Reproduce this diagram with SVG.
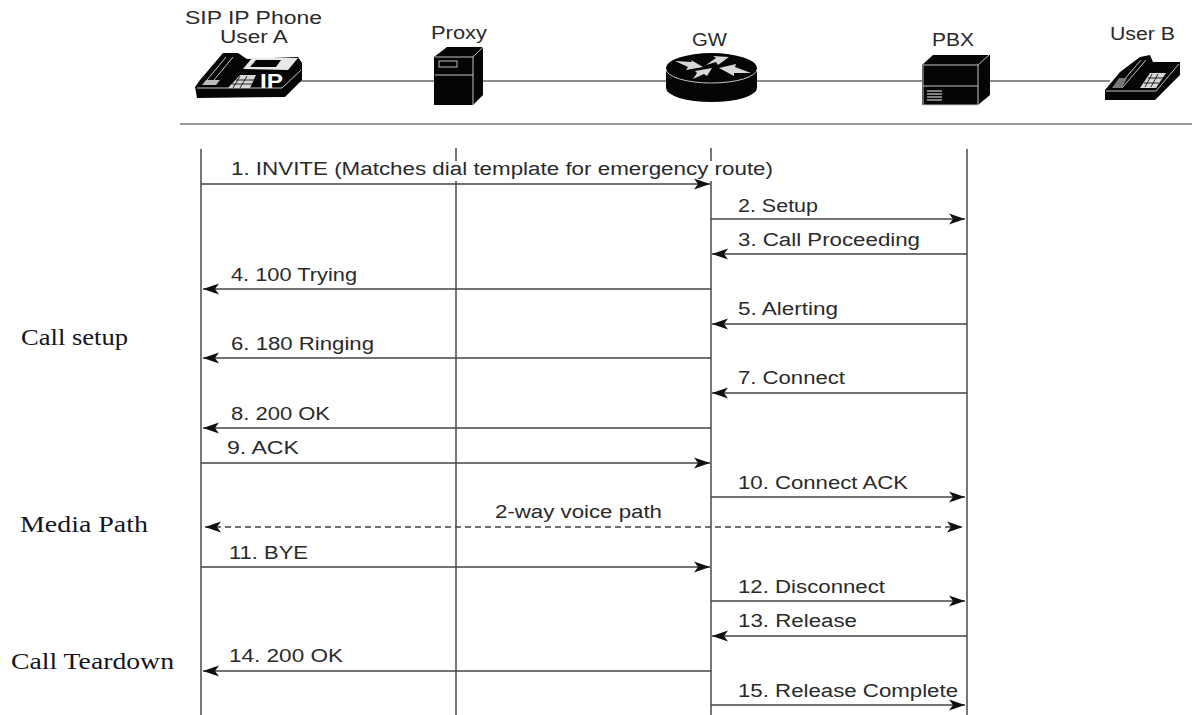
<svg xmlns="http://www.w3.org/2000/svg" width="1192" height="715" viewBox="0 0 1192 715">
<style>
.t{font-family:"Liberation Sans",Arial,sans-serif;font-size:18px;fill:#2a2a2a}
.s{font-family:"Liberation Serif","Times New Roman",serif;font-size:23.5px;fill:#15151f}
.l{stroke:#555;stroke-width:1.6;fill:none}
.m{stroke:#444;stroke-width:1.5;fill:none}
.k{fill:#050505}
.e{stroke:#c4c4c4;stroke-width:1;fill:none}
.p{fill:#d8d8d8}
.d{stroke:#222;stroke-width:1;fill:none}
</style>
<defs>
<marker id="h" markerUnits="userSpaceOnUse" markerWidth="18" markerHeight="14" refX="16" refY="7" orient="auto-start-reverse"><path d="M0 1.5L16 7L0 12.5L4 7Z" fill="#111"/></marker>
</defs>
<rect width="1192" height="715" fill="#fff"/>
<g id="backbone">
<line x1="300" y1="81" x2="1110" y2="81" stroke="#666" stroke-width="1.5"/>
<line x1="180" y1="124" x2="1192" y2="124" stroke="#999" stroke-width="2"/>
</g>
<g id="lifelines">
<line class="l" x1="201" y1="149" x2="201" y2="715"/>
<path class="l" d="M456 148V161M456 181V715"/>
<path class="l" d="M711 148V161M711 181V715"/>
<line class="l" x1="967" y1="149" x2="967" y2="715"/>
</g>
<g id="connectors">
<line class="m" x1="201" y1="184" x2="710" y2="184" marker-end="url(#h)"/>
<line class="m" x1="711" y1="219" x2="965" y2="219" marker-end="url(#h)"/>
<line class="m" x1="967" y1="254" x2="712" y2="254" marker-end="url(#h)"/>
<line class="m" x1="711" y1="289" x2="203" y2="289" marker-end="url(#h)"/>
<line class="m" x1="967" y1="324" x2="712" y2="324" marker-end="url(#h)"/>
<line class="m" x1="711" y1="358" x2="203" y2="358" marker-end="url(#h)"/>
<line class="m" x1="967" y1="393" x2="712" y2="393" marker-end="url(#h)"/>
<line class="m" x1="711" y1="428" x2="203" y2="428" marker-end="url(#h)"/>
<line class="m" x1="201" y1="463" x2="710" y2="463" marker-end="url(#h)"/>
<line class="m" x1="711" y1="497" x2="965" y2="497" marker-end="url(#h)"/>
<line class="m" x1="205" y1="527" x2="963" y2="527" stroke-dasharray="6 4" stroke-width="2" marker-start="url(#h)" marker-end="url(#h)"/>
<line class="m" x1="201" y1="567" x2="710" y2="567" marker-end="url(#h)"/>
<line class="m" x1="711" y1="601" x2="965" y2="601" marker-end="url(#h)"/>
<line class="m" x1="967" y1="636" x2="712" y2="636" marker-end="url(#h)"/>
<line class="m" x1="711" y1="671" x2="203" y2="671" marker-end="url(#h)"/>
<line class="m" x1="711" y1="705" x2="965" y2="705" marker-end="url(#h)"/>
</g>
<g id="phone-a">
<path class="k" d="M195 87L200 80L223 53L238 53L247 59L298 57L302 63L302 80L285 97L197 98Z"/>
<path d="M243 69L252 58L298 58L288 70Z" fill="#e8e8e8"/>
<path class="k" d="M250 67L256 60L281 60L276 67Z"/>
<path class="e" d="M197 88L282 88L301 70M207 80L226 57M214 80L233 57"/>
<path d="M206 80H220L216 85H202Z" fill="#bbb"/>
<path class="p" d="M228 88L240 75L256 75L250 88Z"/>
<path class="d" d="M232 84H252M236 80H254M240 76L233 88M247 76L240 88"/>
<text x="260" y="88" font-family="'Liberation Sans',Arial,sans-serif" font-size="20" font-weight="bold" fill="#fff" textLength="23" lengthAdjust="spacingAndGlyphs">IP</text>
<text class="t" x="185" y="24" textLength="137" lengthAdjust="spacingAndGlyphs">SIP IP Phone</text>
<text class="t" x="220" y="43" textLength="68" lengthAdjust="spacingAndGlyphs">User A</text>
</g>
<g id="proxy">
<path class="k" d="M434 57L447 47L483 47L483 95L473 105L434 105Z"/>
<path class="e" d="M435 57H473V105M473 57L483 47M435 75H473"/>
<rect x="439" y="61" width="18" height="6" fill="none" stroke="#bbb"/>
<text class="t" x="431" y="39" textLength="56" lengthAdjust="spacingAndGlyphs">Proxy</text>
</g>
<g id="gw">
<path class="k" d="M666 68A45.5 15 0 0 1 757 68V88A45.5 14 0 0 1 666 88Z"/>
<path class="e" d="M666 69A45.5 14 0 0 0 757 69"/>
<path class="p" d="M675 61L692 62L691 60L703 67L686 70L688 67ZM729 57L718 65L716 62L706 65L716 58L713 56ZM693 79L697 73L695 71L712 68L707 76L704 74ZM751 73L734 73L734 76L719 68L736 64L735 67Z"/>
<text class="t" x="692" y="46" textLength="35" lengthAdjust="spacingAndGlyphs">GW</text>
</g>
<g id="pbx">
<path class="k" d="M922 65L933 55L990 55L990 95L978 105L922 105Z"/>
<path class="e" d="M923 65H978V105H923ZM978 65L989 55M923 86H978"/>
<path d="M927 91H942M927 94H942M927 97H942M927 100H942" stroke="#aaa" stroke-width="1.5"/>
<text class="t" x="932" y="46" textLength="42" lengthAdjust="spacingAndGlyphs">PBX</text>
</g>
<g id="phone-b">
<path class="k" d="M1105 90L1120 72L1140 57L1150 55L1153 62L1180 62L1180 75L1155 100L1105 100Z"/>
<path class="e" d="M1106 91H1156L1179 64M1117 88L1141 60M1122 88L1146 60"/>
<path d="M1112 88L1119 78H1127L1122 88Z" fill="#777"/>
<path class="p" d="M1140 88L1150 73L1166 73L1156 88Z"/>
<path class="d" d="M1144 83H1159M1148 78H1163M1152 74L1145 87M1158 74L1151 87"/>
<text class="t" x="1110" y="40" textLength="65" lengthAdjust="spacingAndGlyphs">User B</text>
</g>
<g id="labels">
<text class="t" x="231" y="175" textLength="542" lengthAdjust="spacingAndGlyphs">1. INVITE (Matches dial template for emergency route)</text>
<text class="t" x="738" y="212" textLength="80" lengthAdjust="spacingAndGlyphs">2. Setup</text>
<text class="t" x="738" y="246" textLength="182" lengthAdjust="spacingAndGlyphs">3. Call Proceeding</text>
<text class="t" x="231" y="281" textLength="126" lengthAdjust="spacingAndGlyphs">4. 100 Trying</text>
<text class="t" x="738" y="315" textLength="100" lengthAdjust="spacingAndGlyphs">5. Alerting</text>
<text class="t" x="231" y="350" textLength="143" lengthAdjust="spacingAndGlyphs">6. 180 Ringing</text>
<text class="t" x="738" y="384" textLength="107" lengthAdjust="spacingAndGlyphs">7. Connect</text>
<text class="t" x="231" y="420" textLength="99" lengthAdjust="spacingAndGlyphs">8. 200 OK</text>
<text class="t" x="227" y="454" textLength="72" lengthAdjust="spacingAndGlyphs">9. ACK</text>
<text class="t" x="738" y="489" textLength="170" lengthAdjust="spacingAndGlyphs">10. Connect ACK</text>
<text class="t" x="495" y="518" textLength="167" lengthAdjust="spacingAndGlyphs">2-way voice path</text>
<text class="t" x="229" y="559" textLength="79" lengthAdjust="spacingAndGlyphs">11. BYE</text>
<text class="t" x="738" y="593" textLength="147" lengthAdjust="spacingAndGlyphs">12. Disconnect</text>
<text class="t" x="738" y="627" textLength="119" lengthAdjust="spacingAndGlyphs">13. Release</text>
<text class="t" x="229" y="662" textLength="114" lengthAdjust="spacingAndGlyphs">14. 200 OK</text>
<text class="t" x="738" y="697" textLength="220" lengthAdjust="spacingAndGlyphs">15. Release Complete</text>
<text class="s" x="21" y="345" textLength="107" lengthAdjust="spacingAndGlyphs">Call setup</text>
<text class="s" x="20" y="532" textLength="128" lengthAdjust="spacingAndGlyphs">Media Path</text>
<text class="s" x="11" y="669" textLength="163" lengthAdjust="spacingAndGlyphs">Call Teardown</text>
</g>
</svg>
